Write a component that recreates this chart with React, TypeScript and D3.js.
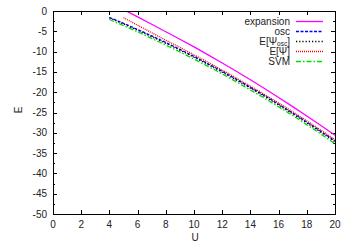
import React, { useEffect, useRef } from 'react';
import * as d3 from 'd3';

const uOsc = [4, 5, 6, 7, 8, 9, 10, 11, 12, 13, 14, 15, 16, 17, 18, 19, 20];
const eOsc = [-1.6, -3.05, -4.56, -6.13, -7.76, -9.45, -11.2, -13.01, -14.88, -16.81, -18.8, -20.85, -22.96, -25.13, -27.36, -29.65, -32.0];
const ePsiOsc = [-1.7, -3.2, -4.75, -6.33, -7.96, -9.65, -11.4, -13.21, -15.08, -17.01, -19.0, -21.05, -23.16, -25.33, -27.56, -29.85, -32.2];
const eSvm = [-2.1, -3.6, -5.15, -6.75, -8.4, -10.1, -11.85, -13.65, -15.5, -17.45, -19.45, -21.5, -23.6, -25.75, -28.0, -30.3, -32.7];

const uExp = [5, 6, 7, 8, 9, 10, 11, 12, 13, 14, 15, 16, 17, 18, 19, 20];
const eExp = [0.35, -1.45, -3.27, -5.1, -6.95, -8.85, -10.8, -12.8, -14.85, -16.95, -19.1, -21.3, -23.55, -25.85, -28.2, -30.6];
const ePsi = [-1.65, -3.5, -5.35, -7.2, -8.95, -10.8, -12.65, -14.55, -16.5, -18.5, -20.55, -22.65, -24.8, -27.05, -29.35, -31.7];

const xTicks = [0, 2, 4, 6, 8, 10, 12, 14, 16, 18, 20];
const yTicks = [0, -5, -10, -15, -20, -25, -30, -35, -40, -45, -50];

const series = [
  { name: 'expansion', u: uExp, e: eExp, color: '#ff00ff', dash: null },
  { name: 'osc', u: uOsc, e: eOsc, color: '#0000ff', dash: '3,1.5' },
  { name: 'psiosc', u: uOsc, e: ePsiOsc, color: '#000000', dash: '1.2,2' },
  { name: 'psi', u: uExp, e: ePsi, color: '#ff0000', dash: '1,1' },
  { name: 'SVM', u: uOsc, e: eSvm, color: '#00dd00', dash: '5,2,1.5,2' },
];

const App = () => {
  const ref = useRef<SVGSVGElement>(null);

  useEffect(() => {
    const svg = d3.select(ref.current);
    svg.selectAll('*').remove();

    const left = 53, right = 335, top = 11, bottom = 214;
    const x = d3.scaleLinear().domain([0, 20]).range([left, right]);
    const y = d3.scaleLinear().domain([-50, 0]).range([bottom, top]);
    const font = 'Liberation Sans, Arial, sans-serif';

    svg.append('defs').append('clipPath').attr('id', 'plotclip')
      .append('rect').attr('x', left).attr('y', top)
      .attr('width', right - left).attr('height', bottom - top);

    // ticks (inward, mirrored)
    const g = svg.append('g').attr('stroke', '#000').attr('stroke-width', 1);
    xTicks.slice(1, -1).forEach(t => {
      const px = Math.round(x(t)) + 0.5;
      g.append('line').attr('x1', px).attr('x2', px).attr('y1', bottom).attr('y2', bottom - 4);
      g.append('line').attr('x1', px).attr('x2', px).attr('y1', top).attr('y2', top + 4);
    });
    d3.range(-50, 0.1, 2.5).forEach(t => {
      const py = Math.round(y(t)) + 0.5;
      const len = t % 5 === 0 ? 4 : 2;
      if (t === 0 || t === -50) return;
      g.append('line').attr('x1', left).attr('x2', left + len).attr('y1', py).attr('y2', py);
      g.append('line').attr('x1', right).attr('x2', right - len).attr('y1', py).attr('y2', py);
    });

    // tick labels
    svg.append('g').selectAll('text').data(xTicks).enter().append('text')
      .attr('x', d => x(d)).attr('y', 228)
      .attr('text-anchor', 'middle').attr('font-family', font).attr('font-size', 10)
      .attr('fill', '#222').text(d => d);
    svg.append('g').selectAll('text').data(yTicks).enter().append('text')
      .attr('x', 47).attr('y', d => y(d) + 3.5)
      .attr('text-anchor', 'end').attr('font-family', font).attr('font-size', 10)
      .attr('fill', '#222').text(d => d);

    // axis titles
    svg.append('text').attr('x', 195).attr('y', 241).attr('text-anchor', 'middle')
      .attr('font-family', font).attr('font-size', 10).attr('fill', '#222').text('U');
    svg.append('text').attr('transform', 'translate(22,110) rotate(-90)').attr('text-anchor', 'middle')
      .attr('font-family', font).attr('font-size', 10).attr('fill', '#222').text('E');

    // curves
    const line = d3.line<[number, number]>().x(d => x(d[0])).y(d => y(d[1])).curve(d3.curveMonotoneX);
    const plot = svg.append('g').attr('clip-path', 'url(#plotclip)');
    series.forEach(s => {
      const pts = s.u.map((u, i) => [u, s.e[i]] as [number, number]);
      plot.append('path').attr('d', line(pts)).attr('fill', 'none')
        .attr('stroke', s.color).attr('stroke-width', 1.3)
        .attr('stroke-dasharray', s.dash);
    });

    // legend
    const lg = svg.append('g');
    series.forEach((s, i) => {
      const ly = 21 + i * 10;
      const t = lg.append('text').attr('x', 290).attr('y', ly + 3.5).attr('text-anchor', 'end')
        .attr('font-family', font).attr('font-size', 10).attr('fill', '#222');
      if (s.name === 'psiosc') {
        t.append('tspan').text('E[\u03A8');
        t.append('tspan').attr('font-size', 6.5).attr('dy', 1.5).text('osc');
        t.append('tspan').attr('dy', -1.5).text(']');
      } else if (s.name === 'psi') {
        t.text('E[\u03A8]');
      } else {
        t.text(s.name);
      }
      lg.append('line').attr('x1', 296).attr('x2', 323).attr('y1', ly + 0.5).attr('y2', ly + 0.5)
        .attr('stroke', s.color).attr('stroke-width', 1.3).attr('stroke-dasharray', s.dash);
    });

    // border
    svg.append('rect').attr('x', left + 0.5).attr('y', top + 0.5)
      .attr('width', right - left).attr('height', bottom - top)
      .attr('fill', 'none').attr('stroke', '#000').attr('stroke-width', 1);
  }, []);

  return (
    <svg ref={ref} width={350} height={245}
      style={{ position: 'absolute', left: 0, top: 0, background: '#fff' }} />
  );
};

export default App;
